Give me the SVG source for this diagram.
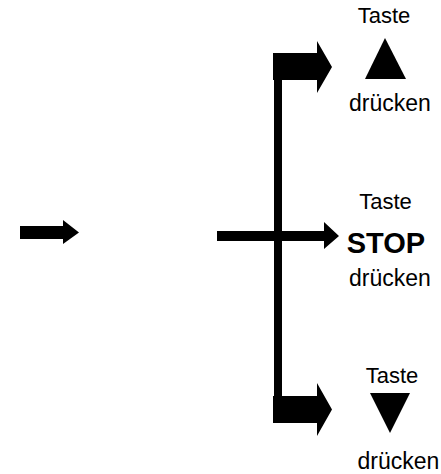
<svg xmlns="http://www.w3.org/2000/svg" width="441" height="474" viewBox="0 0 441 474">
<style>
.t{font-family:"Liberation Sans",Arial,sans-serif;font-size:22px;fill:#000;text-anchor:middle}
.d{font-family:"Liberation Sans",Arial,sans-serif;font-size:23px;fill:#000;text-anchor:middle}
.b{font-family:"Liberation Sans",Arial,sans-serif;font-size:29px;font-weight:bold;fill:#000;text-anchor:middle}
.a{fill:#000;stroke:none}
</style>
<rect width="441" height="474" fill="#fff"/>
<g id="connectors">
<polygon class="a" points="20,226 63,226 63,220 79,232.5 63,244 63,239 20,239"/>
<rect class="a" x="274" y="53" width="8" height="370"/>
<polygon class="a" points="273,53 317,53 317,41 332,67 317,93 317,80 273,80"/>
<polygon class="a" points="217,231 324,231 324,222 339,236 324,249 324,241 217,241"/>
<polygon class="a" points="273,396 317,396 317,383 332,409.5 317,436 317,423 273,423"/>
</g>
<g id="node-up">
<text class="t" x="384" y="23">Taste</text>
<polygon class="a" points="385,38 365,79 406,79"/>
<text class="d" x="390" y="111">drücken</text>
</g>
<g id="node-stop">
<text class="t" x="385.5" y="209">Taste</text>
<text class="b" x="386" y="253">STOP</text>
<text class="d" x="390" y="286">drücken</text>
</g>
<g id="node-down">
<text class="t" x="392" y="383">Taste</text>
<polygon class="a" points="370,393 410,393 390,433"/>
<text class="d" x="398.5" y="469">drücken</text>
</g>
</svg>
